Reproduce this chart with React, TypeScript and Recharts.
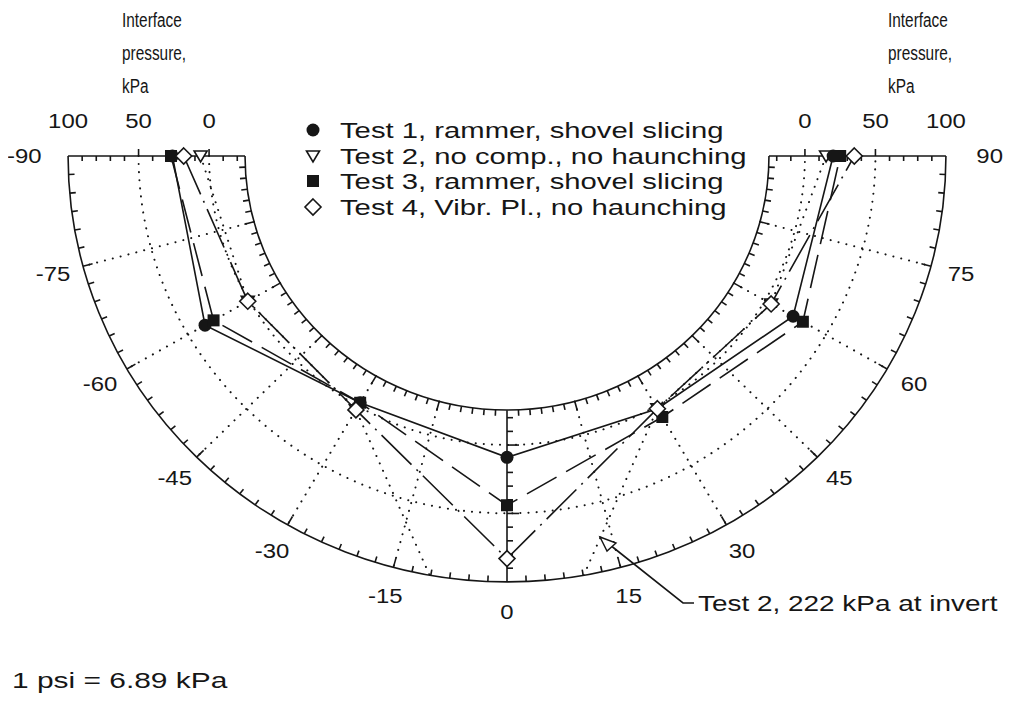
import React from 'react'
import { ComposedChart, Line, XAxis, YAxis, Customized } from 'recharts'

// angles from the invert (0) up to the springlines (-90 / 90), degrees
const angles = [-90, -60, -30, 0, 30, 60, 90]
// interface pressure, kPa
const test1 = [26, 36, -3, 9, 2, 23, 20]
const test2 = [6, 1, 3, 222, 2, 5, 15]
const test3 = [27, 29, -3, 44, 9, 31, 25]
const test4 = [18, 1, 3, 83, 2, 5, 35]

const angleLabels = [-90, -75, -60, -45, -30, -15, 0, 15, 30, 45, 60, 75, 90]
const pressureLabels = [100, 50, 0]
const legendNames = [
  'Test 1, rammer, shovel slicing',
  'Test 2, no comp., no haunching',
  'Test 3, rammer, shovel slicing',
  'Test 4, Vibr. Pl., no haunching',
]

const W = 1000
const H = 690
const CX = 499
const CY = 148
const KX = 1.41
const KY = 1.368
const R0 = 211.3 // distance from centre to the 0 kPa circle, in kPa units
const P_MIN = -25.5
const P_MAX = 100
const INK = '#161616'
const FONT = '"Liberation Sans", Arial, sans-serif'

const xDomain = [-CX / KX, (W - CX) / KX]
const yDomain = [-(H - CY) / KY, CY / KY]

const toPoint = (a: number, p: number) => {
  const rad = (a * Math.PI) / 180
  const rho = R0 + p
  return { x: rho * Math.sin(rad), y: -rho * Math.cos(rad) }
}
const series = (vals: number[]) => angles.map((a, i) => ({ angle: a, p: vals[i], ...toPoint(a, vals[i]) }))

const px = (a: number, p: number): [number, number] => {
  const rad = (a * Math.PI) / 180
  const rho = R0 + p
  return [CX + rho * Math.sin(rad) * KX, CY + rho * Math.cos(rad) * KY]
}

const arcPath = (p: number) => {
  const [x1, y1] = px(-90, p)
  const [x2, y2] = px(90, p)
  const rx = (R0 + p) * KX
  const ry = (R0 + p) * KY
  return `M${x1},${y1} A${rx},${ry} 0 0 0 ${x2},${y2}`
}

type Kind = 'circle' | 'triangle' | 'square' | 'diamond'

function Marker({ kind, cx, cy }: { kind: Kind; cx: number; cy: number }) {
  if (kind === 'circle') return <circle cx={cx} cy={cy} r={6.5} fill={INK} />
  if (kind === 'square') return <rect x={cx - 6} y={cy - 6} width={12} height={12} fill={INK} />
  if (kind === 'triangle')
    return (
      <path d={`M${cx - 6.5},${cy - 5} L${cx + 6.5},${cy - 5} L${cx},${cy + 6} Z`} fill="#fff" stroke={INK} strokeWidth={1.6} />
    )
  return (
    <path d={`M${cx},${cy - 8} L${cx + 8},${cy} L${cx},${cy + 8} L${cx - 8},${cy} Z`} fill="#fff" stroke={INK} strokeWidth={1.6} />
  )
}

const dotOf = (kind: Kind) => (props: any) => {
  if (props.cx == null || props.cy == null) return <g key={props.index} />
  return <Marker key={props.index} kind={kind} cx={props.cx} cy={props.cy} />
}

// scanned lettering is wider (or narrower) than the plain font, so stretch it
function SText({ x, y, k = 1, size = 21, anchor = 'start', baseline, children }: any) {
  return (
    <text
      transform={`translate(${x},${y}) scale(${k},1)`}
      textAnchor={anchor}
      dominantBaseline={baseline}
      fill={INK}
      fontFamily={FONT}
      fontSize={size}
    >
      {children}
    </text>
  )
}

function PolarGrid() {
  const dotted = { stroke: INK, strokeWidth: 2, strokeDasharray: '0.1 8', strokeLinecap: 'round' as const, fill: 'none' }
  const solid = { stroke: INK, strokeWidth: 1.6, fill: 'none' }
  const radials = [-75, -60, -45, -30, -15, 15, 30, 45, 60, 75]
  const arcTicks: number[] = []
  for (let a = -87.5; a < 88; a += 2.5) if (a !== 0) arcTicks.push(a)
  const axisTicks: number[] = []
  for (let p = -20; p <= 90; p += 10) axisTicks.push(p)

  return (
    <g>
      <defs>
        <clipPath id="outerClip">
          <ellipse cx={CX} cy={CY} rx={(R0 + P_MAX) * KX} ry={(R0 + P_MAX) * KY} />
        </clipPath>
      </defs>
      <path d={arcPath(0)} {...dotted} />
      <path d={arcPath(50)} {...dotted} />
      {radials.map((a) => {
        const [x1, y1] = px(a, P_MIN)
        const [x2, y2] = px(a, P_MAX)
        return <line key={a} x1={x1} y1={y1} x2={x2} y2={y2} {...dotted} />
      })}
      <path d={arcPath(P_MIN)} {...solid} />
      <path d={arcPath(P_MAX)} {...solid} />
      {[-90, 0, 90].map((a) => {
        const [x1, y1] = px(a, P_MIN)
        const [x2, y2] = px(a, P_MAX)
        return <line key={a} x1={x1} y1={y1} x2={x2} y2={y2} {...solid} />
      })}
      {arcTicks.map((a) => {
        const len = a % 15 === 0 ? 7 : 4.3
        const [ix1, iy1] = px(a, P_MIN)
        const [ix2, iy2] = px(a, P_MIN + len)
        const [ox1, oy1] = px(a, P_MAX)
        const [ox2, oy2] = px(a, P_MAX - len)
        return (
          <g key={a}>
            <line x1={ix1} y1={iy1} x2={ix2} y2={iy2} {...solid} />
            <line x1={ox1} y1={oy1} x2={ox2} y2={oy2} {...solid} />
          </g>
        )
      })}
      {axisTicks.map((p) => {
        const major = p === 0 || p === 50
        const [lx, ly] = px(-90, p)
        const [rx, ry] = px(90, p)
        const [bx, by] = px(0, p)
        return (
          <g key={p}>
            <line x1={lx} y1={ly} x2={lx} y2={major ? ly - 7 : ly + 5} {...solid} />
            <line x1={rx} y1={ry} x2={rx} y2={major ? ry - 7 : ry + 5} {...solid} />
            <line x1={bx} y1={by} x2={bx + (major ? 12 : 6)} y2={by} {...solid} />
          </g>
        )
      })}
    </g>
  )
}

function Labels() {
  const kinds: Kind[] = ['circle', 'triangle', 'square', 'diamond']
  const legendY = [122, 148, 173, 199]
  const [ax, ay] = [600 - 8, 537 - 8]
  return (
    <g>
      {['Interface', 'pressure,', 'kPa'].map((t, i) => (
        <g key={t}>
          <SText x={114} y={19 + i * 33} size={20} k={0.77}>{t}</SText>
          <SText x={880} y={19 + i * 33} size={20} k={0.77}>{t}</SText>
        </g>
      ))}
      {pressureLabels.map((p) => (
        <g key={p}>
          <SText x={px(-90, p)[0]} y={120} anchor="middle" k={1.14}>{p}</SText>
          <SText x={px(90, p)[0]} y={120} anchor="middle" k={1.14}>{p}</SText>
        </g>
      ))}
      {angleLabels.map((a) => {
        const [x, y] = Math.abs(a) === 90 ? px(a, 131) : px(a, 122)
        return (
          <SText key={a} x={x} y={y} anchor="middle" baseline="central" k={1.14}>{a}</SText>
        )
      })}
      {legendNames.map((n, i) => (
        <g key={n}>
          <Marker kind={kinds[i]} cx={305} cy={legendY[i]} />
          <SText x={332} y={legendY[i]} baseline="central" size={22} k={1.33}>{n}</SText>
        </g>
      ))}
      <SText x={690} y={603} size={22} k={1.27}>Test 2, 222 kPa at invert</SText>
      <polyline points={`${686},${595} ${675},${595} ${ax},${ay}`} fill="none" stroke={INK} strokeWidth={1.6} />
      <path d={`M${ax},${ay} L${ax + 16},${ay + 6} L${ax + 7},${ay + 14} Z`} fill="#fff" stroke={INK} strokeWidth={1.4} />
      <SText x={4} y={680} size={22} k={1.36}>1 psi = 6.89 kPa</SText>
    </g>
  )
}

export default function App() {
  return (
    <div>
      <style>{'.t2-line { clip-path: url(#outerClip); }'}</style>
      <ComposedChart width={W} height={H} margin={{ top: 0, right: 0, bottom: 0, left: 0 }}>
        <XAxis dataKey="x" type="number" domain={xDomain} allowDataOverflow hide />
        <YAxis dataKey="y" type="number" domain={yDomain} allowDataOverflow hide />
        <Customized component={PolarGrid} />
        <Line
          className="t2-line"
          data={series(test2)}
          dataKey="y"
          stroke={INK}
          strokeWidth={2}
          strokeDasharray="0.1 8"
          strokeLinecap="round"
          dot={dotOf('triangle')}
          isAnimationActive={false}
        />
        <Line data={series(test1)} dataKey="y" stroke={INK} strokeWidth={1.6} dot={dotOf('circle')} isAnimationActive={false} />
        <Line
          data={series(test3)}
          dataKey="y"
          stroke={INK}
          strokeWidth={1.6}
          strokeDasharray="34 11"
          dot={dotOf('square')}
          isAnimationActive={false}
        />
        <Line
          data={series(test4)}
          dataKey="y"
          stroke={INK}
          strokeWidth={1.6}
          strokeDasharray="42 7 2 7"
          dot={dotOf('diamond')}
          isAnimationActive={false}
        />
        <Customized component={Labels} />
      </ComposedChart>
    </div>
  )
}
